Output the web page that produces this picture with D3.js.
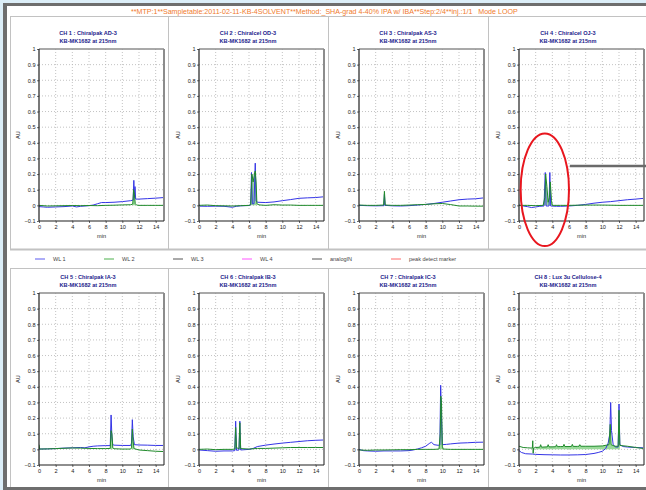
<!DOCTYPE html>
<html>
<head>
<meta charset="utf-8">
<script src="https://cdn.jsdelivr.net/npm/d3@7"></script>
<style>
  body { margin: 0; background: #fff; }
  svg { display: block; font-family: "Liberation Sans", Arial, sans-serif; }
</style>
</head>
<body>
<svg id="chart" width="646" height="490"></svg>
<script>
// ---- run header, column names, axes ----
const runTitle = "**MTP:1**Sampletable:2011-02-11-KB-4SOLVENT**Method:_SHA-grad 4-40% IPA w/ IBA**Step:2/4**inj.:1/1   Mode LOOP";
const columnNames = ["Chiralpak AD-3", "Chiralcel OD-3", "Chiralpak AS-3", "Chiralcel OJ-3",
                     "Chiralpak IA-3", "Chiralpak IB-3", "Chiralpak IC-3", "Lux 3u Cellulose-4"];
const sampleLine = "KB-MK1682 at 215nm";
const timeTicks = [0, 2, 4, 6, 8, 10, 12, 14];
const auTicks = [-0.1, 0, 0.1, 0.2, 0.3, 0.4, 0.5, 0.6, 0.7, 0.8, 0.9, 1];
const legendLabels = ["WL 1", "WL 2", "WL 3", "WL 4", "analogIN", "peak detect marker"];
const legendColors = ["#5a5af0", "#4cb04c", "#555555", "#ff55ff", "#555555", "#ff6a6a"];

// ---- traces: [time (min), absorbance (AU)] ----
const ch1Wl1 = [[0,-0.008],[0.5,-0.01],[1,-0.012],[2,-0.01],[3,-0.008],[4,-0.004],[4.5,-0.01],[5,-0.006],[6,-0.002],[6.5,0.002],[7,0.01],[7.5,0.018],[8,0.018],[9,0.02],[10,0.024],[11,0.03],[11.3,0.034],[11.38,0.16],[11.45,0.05],[11.52,0.12],[11.6,0.04],[12,0.04],[13,0.043],[14,0.046],[15,0.05]];
const ch1Wl2 = [[0,0],[1,-0.004],[2,-0.003],[3,-0.002],[4,-0.001],[5,-0.002],[6,-0.001],[7,-0.002],[8,0],[9,0.001],[10,0.003],[11,0.004],[11.25,0.008],[11.35,0.1],[11.45,0.07],[11.55,0.01],[11.7,0.002],[12,0],[13,0],[14,0],[15,0]];
const ch1Peaks = [[11.25, 11.6]];

const ch2Wl1 = [[0,0.005],[0.1,-0.005],[1,-0.006],[2,-0.005],[3,-0.006],[4,-0.012],[4.5,-0.006],[5,-0.003],[6,-0.001],[6.2,0.003],[6.3,0.21],[6.4,0.01],[6.6,0.01],[6.75,0.27],[6.85,0.03],[7,0.02],[8,0.018],[9,0.022],[10,0.03],[11,0.037],[12,0.045],[13,0.048],[14,0.05],[15,0.055]];
const ch2Wl2 = [[0,0],[1,0.002],[2,-0.002],[3,-0.003],[4,-0.004],[5,-0.002],[6,0],[6.2,0.005],[6.3,0.13],[6.35,0.2],[6.5,0.15],[6.65,0.2],[6.75,0.22],[6.85,0.15],[6.95,0.01],[7.2,0.003],[8,0],[9,0.004],[10,0.002],[11,0.002],[12,0],[13,0],[14,0],[15,0]];
const ch2Peaks = [[6.2, 6.95]];

const ch3Wl1 = [[0,0],[1,-0.002],[2,-0.003],[3,-0.002],[3.05,0.07],[3.12,0],[4,-0.003],[5,-0.004],[6,-0.002],[7,0.002],[8,0.006],[9,0.012],[10,0.02],[11,0.028],[12,0.036],[13,0.04],[14,0.042],[15,0.048]];
const ch3Wl2 = [[0,0.002],[1,0],[2,0],[2.95,0.002],[3.05,0.09],[3.15,0.002],[4,0],[5,0],[6,0.002],[7,0.004],[8,0.006],[9,0.01],[10,0.012],[11,0.005],[12,-0.004],[13,-0.004],[14,-0.005],[15,-0.005]];
const ch3Peaks = [[2.95, 3.15]];

const ch4Wl1 = [[0,0.002],[0.5,-0.004],[1,-0.008],[1.5,-0.014],[2,-0.01],[2.5,-0.006],[3,-0.004],[3.15,0.21],[3.25,-0.004],[3.6,-0.004],[3.7,0.21],[3.8,-0.004],[4.5,-0.006],[5,-0.006],[6,-0.004],[7,0],[8,0.006],[9,0.014],[10,0.02],[11,0.024],[12,0.03],[13,0.036],[14,0.04],[15,0.045]];
const ch4Wl2 = [[0,0],[1,0],[2,-0.002],[2.9,0],[3.1,0.05],[3.2,0.2],[3.35,0.12],[3.5,0.02],[3.65,0.05],[3.75,0.15],[3.9,0.03],[4,0],[5,0],[6,0],[8,0.002],[10,0.002],[12,0],[13,0],[15,0]];
const ch4Peaks = [[2.9, 4.0]];

const ch5Wl1 = [[0,0.002],[1,0.003],[2,0.005],[3,0.008],[4,0.01],[5,0.012],[5.5,0.01],[6,0.016],[6.5,0.02],[7,0.022],[8,0.024],[8.55,0.024],[8.65,0.22],[8.75,0.08],[8.85,0.03],[9,0.027],[10,0.025],[11,0.025],[11.1,0.04],[11.2,0.19],[11.3,0.08],[11.45,0.03],[12,0.028],[13,0.027],[14,0.025],[15,0.025]];
const ch5Wl2 = [[0,0.03],[0.08,0.002],[1,0.003],[2,0.005],[3,0.007],[4,0.009],[5,0.008],[6,0.006],[7,0.005],[8,0.005],[8.55,0.006],[8.65,0.12],[8.75,0.1],[8.85,0.01],[9,0.004],[10,0.002],[11,0.002],[11.1,0.01],[11.2,0.13],[11.3,0.05],[11.4,0.005],[12,-0.004],[13,-0.008],[14,-0.012],[15,-0.014]];
const ch5Peaks = [[8.55, 8.9], [11.05, 11.45]];

const ch6Wl1 = [[0,-0.004],[1,-0.008],[2,-0.012],[3,-0.01],[4,-0.01],[4.3,-0.008],[4.4,0.18],[4.5,-0.006],[4.8,-0.004],[4.9,0.18],[5,-0.004],[6,0],[6.5,0.006],[7,0.018],[8,0.027],[9,0.034],[10,0.04],[11,0.045],[12,0.05],[13,0.055],[14,0.058],[15,0.06]];
const ch6Wl2 = [[0,0],[1,0.002],[2,-0.002],[3,0],[4,0],[4.3,0.002],[4.4,0.14],[4.5,0.01],[4.8,0.005],[4.9,0.17],[5,0.005],[6,0.002],[7,0.006],[8,0.006],[9,0.008],[10,0.01],[11,0.012],[12,0.012],[13,0.012],[14,0.012],[15,0.012]];
const ch6Peaks = [[4.25, 4.55], [4.75, 5.05]];

const ch7Wl1 = [[0,0],[0.5,-0.008],[1,-0.01],[2,-0.012],[3,-0.01],[4,-0.01],[5,-0.01],[6,-0.008],[6.5,-0.004],[7,0.002],[7.5,0.01],[8,0.02],[8.5,0.04],[8.7,0.045],[9,0.03],[9.5,0.026],[9.7,0.028],[9.8,0.41],[9.9,0.2],[10,0.03],[10.5,0.032],[11,0.035],[12,0.04],[13,0.042],[14,0.045],[15,0.046]];
const ch7Wl2 = [[0,-0.004],[1,-0.006],[2,-0.004],[3,-0.004],[4,-0.003],[5,-0.002],[6,-0.002],[7,0],[8,0],[9,0],[9.6,0.002],[9.75,0.1],[9.82,0.34],[9.9,0.3],[10,0.02],[10.1,0.002],[11,0],[12,0],[13,0],[14,0],[15,0]];
const ch7Peaks = [[9.6, 10.1]];

const ch8Wl1 = [[0,-0.008],[0.3,-0.02],[0.8,-0.028],[1.6,-0.03],[2,-0.032],[3,-0.034],[4,-0.035],[5,-0.036],[6,-0.036],[7,-0.035],[8,-0.033],[9,-0.026],[9.5,-0.02],[10,-0.012],[10.4,0.005],[10.7,0.04],[10.9,0.1],[11,0.3],[11.1,0.12],[11.3,0.03],[11.6,0.015],[11.9,0.015],[12,0.29],[12.1,0.03],[12.5,0.018],[13,0.015],[14,0.012],[15,0.01]];
const ch8Wl2 = [[0,0.02],[0.5,0.012],[1,0.01],[1.6,0.008],[1.65,0.055],[1.7,-0.025],[1.75,0.008],[2,0.012],[2.5,0.014],[2.6,0.03],[2.7,0.014],[3,0.015],[3.4,0.016],[3.5,0.03],[3.6,0.016],[4,0.016],[4.4,0.017],[4.5,0.03],[4.6,0.017],[5,0.018],[5.3,0.018],[5.4,0.032],[5.5,0.018],[6,0.018],[6.3,0.019],[6.4,0.032],[6.5,0.019],[7,0.019],[7.2,0.02],[7.3,0.03],[7.4,0.02],[8,0.02],[9,0.02],[10,0.022],[10.8,0.03],[10.95,0.16],[11.05,0.03],[11.5,0.02],[11.9,0.02],[12,0.25],[12.1,0.025],[13,0.02],[14,0.012],[15,0.005]];
const ch8Peaks = [[1.8, 12.2]];

// callout on channel 4: ellipse centre/radii in data units, and leader start
const calloutEllipse = [3.1, 0.1, 2.9, 0.36];
const calloutLeader = [6.1, 0.252];

const wl1Series = [ch1Wl1, ch2Wl1, ch3Wl1, ch4Wl1, ch5Wl1, ch6Wl1, ch7Wl1, ch8Wl1];
const wl2Series = [ch1Wl2, ch2Wl2, ch3Wl2, ch4Wl2, ch5Wl2, ch6Wl2, ch7Wl2, ch8Wl2];
const peakWindows = [ch1Peaks, ch2Peaks, ch3Peaks, ch4Peaks, ch5Peaks, ch6Peaks, ch7Peaks, ch8Peaks];

// ---- drawing ----
const W = 646, H = 490;
const svg = d3.select("#chart");

// window chrome
svg.append("rect").attr("width", W).attr("height", H).attr("fill", "#dceef8");
svg.append("rect").attr("x", 3).attr("y", 3).attr("width", W - 3).attr("height", H - 3).attr("fill", "#6e6e6e");
svg.append("rect").attr("x", 7).attr("y", 6).attr("width", W - 7).attr("height", 481).attr("fill", "#ffffff");

// header line and cell separators
const sep = "#c2c2c2";
svg.append("line").attr("x1", 10).attr("x2", W).attr("y1", 16.5).attr("y2", 16.5).attr("stroke", sep);
[10, 168, 328, 488].forEach(x => {
  svg.append("line").attr("x1", x + 0.5).attr("x2", x + 0.5).attr("y1", 17).attr("y2", 249).attr("stroke", sep);
  svg.append("line").attr("x1", x + 0.5).attr("x2", x + 0.5).attr("y1", 268).attr("y2", 487).attr("stroke", sep);
});
svg.append("line").attr("x1", 10).attr("x2", W).attr("y1", 249.5).attr("y2", 249.5).attr("stroke", sep).attr("stroke-width", 2);
svg.append("line").attr("x1", 10).attr("x2", W).attr("y1", 268.5).attr("y2", 268.5).attr("stroke", sep);

svg.append("text").attr("x", 131).attr("y", 13.5)
  .attr("font-size", 7.1).attr("fill", "#f07a2c")
  .style("white-space", "pre").text(runTitle);

// legend strip
const legendX = [35, 104, 173, 242, 312, 391];
legendLabels.forEach((lab, i) => {
  const g = svg.append("g").attr("transform", `translate(${legendX[i]},259)`);
  g.append("line").attr("x1", 0).attr("x2", 10).attr("y1", 0).attr("y2", 0)
    .attr("stroke", legendColors[i]).attr("stroke-width", 1);
  g.append("text").attr("x", 18).attr("y", 2).attr("font-size", 5.5).attr("fill", "#444").text(lab);
});

const plotW = 125, plotH = 172;

columnNames.forEach((name, i) => {
  const col = i % 4, row = Math.floor(i / 4);
  const left = 39 + 160 * col;
  const top = row === 0 ? 49 : 293;
  const x = d3.scaleLinear().domain([0, 15]).range([left, left + plotW]);
  const y = d3.scaleLinear().domain([-0.1, 1]).range([top + plotH, top]);
  const g = svg.append("g");

  // titles
  const cx = 88 + 160 * col;
  g.append("text").attr("x", cx).attr("y", top - 13.7).attr("text-anchor", "middle")
    .attr("font-size", 5.6).attr("font-weight", "bold").attr("fill", "#1c1c8c")
    .text(`CH ${i + 1} : ${name}`);
  g.append("text").attr("x", cx).attr("y", top - 6.3).attr("text-anchor", "middle")
    .attr("font-size", 5.6).attr("font-weight", "bold").attr("fill", "#1c1c8c")
    .text(sampleLine);

  // grid
  const clipId = `clip${i}`;
  g.append("clipPath").attr("id", clipId).append("rect")
    .attr("x", left).attr("y", top).attr("width", plotW).attr("height", plotH);
  g.append("g").selectAll("line").data(timeTicks.filter(t => t > 0)).join("line")
    .attr("x1", d => x(d)).attr("x2", d => x(d)).attr("y1", top).attr("y2", top + plotH)
    .attr("stroke", "#b4b4b4").attr("stroke-width", 0.8).attr("stroke-dasharray", "1,2");
  g.append("g").selectAll("line").data(auTicks.filter(t => t > -0.1 && t < 1)).join("line")
    .attr("x1", left).attr("x2", left + plotW).attr("y1", d => y(d)).attr("y2", d => y(d))
    .attr("stroke", "#b4b4b4").attr("stroke-width", 0.8).attr("stroke-dasharray", "1,2");

  // axes
  const yAxis = d3.axisLeft(y).tickValues(auTicks).tickSize(2).tickPadding(1.5)
    .tickFormat(d => d3.format("")(+d.toFixed(1)));
  const ya = g.append("g").attr("transform", `translate(${left},0)`).call(yAxis);
  const xAxis = d3.axisBottom(x).tickValues(timeTicks).tickSize(2).tickPadding(2.5);
  const xa = g.append("g").attr("transform", `translate(0,${top + plotH})`).call(xAxis);
  [ya, xa].forEach(a => {
    a.select(".domain").remove();
    a.selectAll("text").attr("font-size", 5.6).attr("fill", "#222").attr("font-family", "Liberation Sans, Arial, sans-serif");
    a.selectAll(".tick line").attr("stroke", "#444").attr("stroke-width", 0.8);
  });

  g.append("text").attr("transform", `translate(${left - 19.5},${top + plotH / 2}) rotate(-90)`)
    .attr("text-anchor", "middle").attr("font-size", 5.6).attr("fill", "#222").text("AU");
  g.append("text").attr("x", left + plotW / 2).attr("y", top + plotH + 17)
    .attr("text-anchor", "middle").attr("font-size", 5.6).attr("fill", "#222").text("min");

  // traces
  const plot = g.append("g").attr("clip-path", `url(#${clipId})`);
  const line = d3.line().x(d => x(d[0])).y(d => y(d[1]));
  const area = d3.area().x(d => x(d[0])).y0(y(0)).y1(d => y(d[1]));
  peakWindows[i].forEach(([a, b]) => {
    plot.append("path").datum(wl2Series[i].filter(d => d[0] >= a && d[0] <= b))
      .attr("d", area).attr("fill", "#8fd68f").attr("opacity", 0.9);
  });
  plot.append("path").datum(wl1Series[i]).attr("d", line)
    .attr("fill", "none").attr("stroke", "#3434e6").attr("stroke-width", 1);
  plot.append("path").datum(wl2Series[i]).attr("d", line)
    .attr("fill", "none").attr("stroke", "#1f8a2a").attr("stroke-width", 1);

  // frame: dark left/bottom, grey top/right
  g.append("line").attr("x1", left).attr("x2", left + plotW).attr("y1", top).attr("y2", top)
    .attr("stroke", "#8c8c8c").attr("stroke-width", 1.4);
  g.append("line").attr("x1", left + plotW).attr("x2", left + plotW).attr("y1", top).attr("y2", top + plotH)
    .attr("stroke", "#8c8c8c").attr("stroke-width", 2);
  g.append("line").attr("x1", left).attr("x2", left).attr("y1", top).attr("y2", top + plotH)
    .attr("stroke", "#1e1e1e").attr("stroke-width", 1.2);
  g.append("line").attr("x1", left).attr("x2", left + plotW).attr("y1", top + plotH).attr("y2", top + plotH)
    .attr("stroke", "#1e1e1e").attr("stroke-width", 1.2);

  if (i === 3) {
    const [et, ea, rt, ra] = calloutEllipse;
    svg.append("ellipse").attr("cx", x(et)).attr("cy", y(ea))
      .attr("rx", x(rt) - x(0)).attr("ry", y(0) - y(ra))
      .attr("fill", "none").attr("stroke", "#e8161e").attr("stroke-width", 2);
    svg.append("line").attr("x1", x(calloutLeader[0])).attr("x2", W)
      .attr("y1", y(calloutLeader[1])).attr("y2", y(calloutLeader[1]))
      .attr("stroke", "#6a6a6a").attr("stroke-width", 2.6);
  }
});
</script>
</body>
</html>
